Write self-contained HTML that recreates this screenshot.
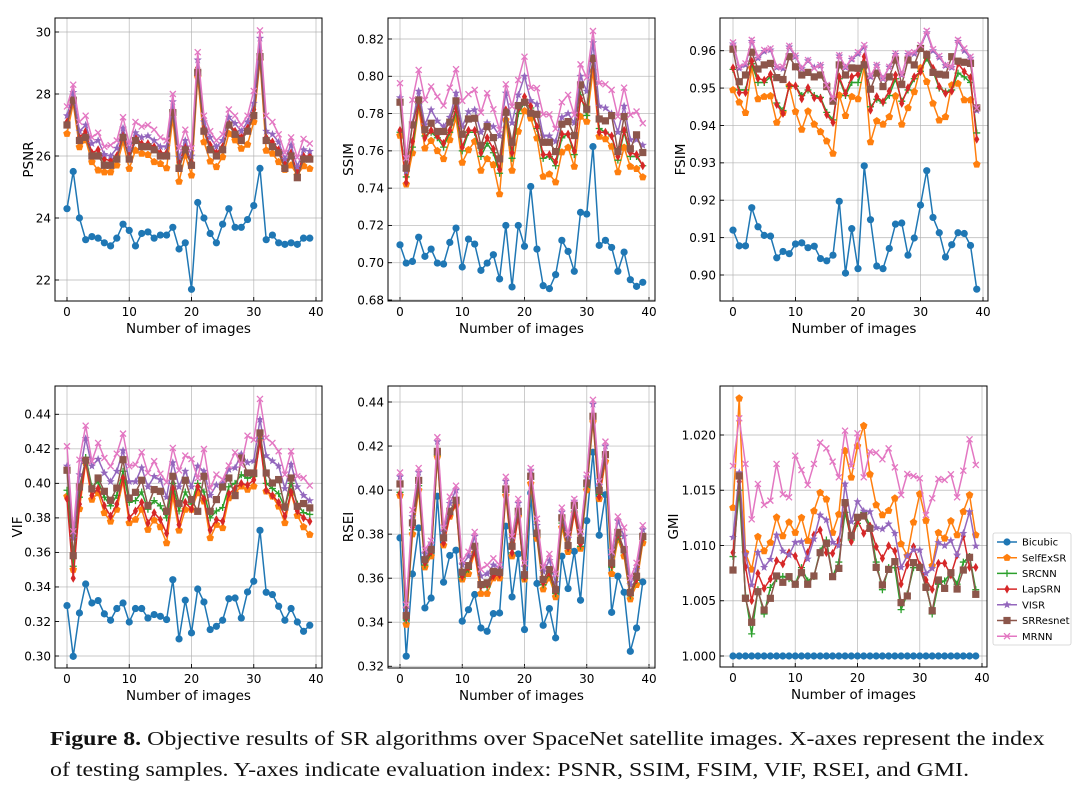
<!DOCTYPE html>
<html><head><meta charset="utf-8">
<style>
html,body{margin:0;padding:0;background:#fff;}
svg{display:block;font-family:"DejaVu Sans","Liberation Sans",sans-serif;}
.cap{position:absolute;left:50px;font-family:"Liberation Serif",serif;font-size:19.5px;color:#111;white-space:nowrap;transform:scaleX(1.225);transform-origin:0 0;}
</style></head>
<body>
<div style="position:relative;width:1082px;height:793px;overflow:hidden">
<svg id="fig" width="1082" height="793" viewBox="0 0 1082 793"></svg>
<div class="cap" style="top:729px"><b>Figure 8.</b> Objective results of SR algorithms over SpaceNet satellite images. X-axes represent the index</div>
<div class="cap" style="top:760px">of testing samples. Y-axes indicate evaluation index: PSNR, SSIM, FSIM, VIF, RSEI, and GMI.</div>
</div>
<script>
const seriesNames=["Bicubic","SelfExSR","SRCNN","LapSRN","VISR","SRResnet","MRNN"];
const xTicks=[0,10,20,30,40];

const psnrBicubic=[24.3,25.5,24.0,23.3,23.4,23.35,23.2,23.1,23.35,23.8,23.6,23.1,23.5,23.55,23.35,23.45,23.45,23.7,23.0,23.2,21.7,24.5,24.0,23.5,23.2,23.8,24.3,23.7,23.7,23.95,24.4,25.6,23.3,23.45,23.2,23.15,23.2,23.15,23.35,23.35];
const psnrSelfExSR=[26.72,27.69,26.29,26.51,25.81,25.54,25.48,25.48,25.7,26.45,25.59,26.18,26.08,26.04,25.81,25.75,25.61,27.2,25.18,26.02,25.38,28.55,26.45,25.83,25.65,25.97,26.72,26.51,26.24,26.37,27.1,29.09,26.18,26.08,25.81,25.56,25.7,25.38,25.68,25.59];
const psnrSRCNN=[27.05,27.85,26.55,26.7,26.05,26.1,25.8,25.75,25.95,26.65,25.95,26.55,26.35,26.35,26.25,26.05,26.05,27.45,25.7,26.25,25.75,28.75,26.85,26.3,26.05,26.25,27.0,26.75,26.55,26.85,27.4,29.3,26.55,26.35,26.15,25.7,26.05,25.4,25.95,25.95];
const psnrLapSRN=[27.1,27.9,26.6,26.8,26.1,26.2,25.9,25.85,26.0,26.7,26.0,26.6,26.4,26.4,26.3,26.1,26.1,27.5,25.8,26.3,25.8,28.85,26.9,26.35,26.1,26.3,27.05,26.8,26.6,26.9,27.5,29.4,26.6,26.45,26.2,25.75,26.1,25.45,26.0,26.0];
const psnrVISR=[27.3,28.05,26.8,27.0,26.4,26.5,26.05,26.0,26.25,26.9,26.2,26.75,26.6,26.65,26.5,26.3,26.3,27.75,25.95,26.5,26.0,29.1,27.1,26.6,26.3,26.5,27.25,27.05,26.8,27.1,27.7,29.8,26.8,26.7,26.45,25.9,26.35,25.65,26.2,26.15];
const psnrSRResnet=[27.0,27.8,26.5,26.6,26.0,26.0,25.7,25.7,25.9,26.6,25.9,26.5,26.3,26.3,26.2,26.0,26.0,27.4,25.6,26.2,25.7,28.7,26.8,26.2,26.0,26.2,27.0,26.7,26.5,26.8,27.3,29.2,26.5,26.3,26.1,25.6,26.0,25.3,25.9,25.9];
const psnrMRNN=[27.6,28.3,27.1,27.3,26.6,26.75,26.3,26.35,26.5,27.25,26.4,27.1,26.95,27.0,26.85,26.6,26.5,28.0,26.25,26.85,26.25,29.35,27.3,26.8,26.5,26.7,27.5,27.3,27.0,27.3,28.1,30.05,27.3,27.1,26.7,26.1,26.6,25.95,26.55,26.4];

const ssimBicubic=[0.7096,0.6998,0.7007,0.7137,0.7034,0.7073,0.6998,0.6993,0.7109,0.7186,0.6977,0.7127,0.71,0.6959,0.6998,0.7043,0.6913,0.72,0.687,0.72,0.7088,0.7409,0.7073,0.6877,0.6861,0.6936,0.712,0.7061,0.6954,0.727,0.7261,0.7623,0.7093,0.712,0.7082,0.6954,0.7057,0.6909,0.6873,0.6895];
const ssimSelfExSR=[0.7682,0.7421,0.7588,0.7829,0.7614,0.7654,0.76,0.7557,0.7659,0.7775,0.7538,0.7605,0.765,0.7495,0.7557,0.7525,0.7368,0.7766,0.7495,0.7704,0.7814,0.7775,0.7668,0.7462,0.7475,0.7432,0.7593,0.7618,0.7516,0.7784,0.7757,0.8029,0.7677,0.7664,0.7623,0.7486,0.7618,0.7516,0.7504,0.7459];
const ssimSRCNN=[0.770,0.746,0.762,0.785,0.768,0.770,0.767,0.762,0.770,0.781,0.760,0.770,0.770,0.757,0.764,0.759,0.748,0.781,0.756,0.780,0.786,0.783,0.772,0.756,0.757,0.752,0.767,0.769,0.758,0.790,0.779,0.810,0.772,0.770,0.768,0.755,0.770,0.757,0.757,0.752];
const ssimLapSRN=[0.771,0.743,0.765,0.786,0.767,0.771,0.768,0.764,0.771,0.783,0.762,0.771,0.771,0.759,0.767,0.761,0.750,0.782,0.759,0.783,0.789,0.784,0.773,0.758,0.758,0.754,0.769,0.769,0.760,0.788,0.783,0.808,0.770,0.770,0.768,0.757,0.771,0.759,0.758,0.752];
const ssimVISR=[0.7885,0.749,0.775,0.792,0.774,0.782,0.776,0.773,0.778,0.791,0.773,0.781,0.782,0.770,0.775,0.773,0.768,0.791,0.775,0.790,0.800,0.787,0.785,0.768,0.768,0.765,0.778,0.780,0.775,0.800,0.792,0.818,0.784,0.783,0.780,0.770,0.784,0.766,0.766,0.763];
const ssimSRResnet=[0.7861,0.7507,0.7739,0.7873,0.7713,0.7748,0.7704,0.7704,0.7754,0.7868,0.7689,0.7771,0.7775,0.7629,0.773,0.7671,0.7557,0.7807,0.7646,0.7843,0.7861,0.7802,0.7796,0.7646,0.7646,0.7596,0.7743,0.7757,0.7682,0.7954,0.7823,0.8096,0.7771,0.7761,0.7789,0.7596,0.7784,0.7611,0.7686,0.7591];
const ssimMRNN=[0.7963,0.7561,0.7873,0.8034,0.7873,0.7945,0.7891,0.7843,0.7939,0.8038,0.7868,0.7904,0.7927,0.7805,0.7909,0.7823,0.7713,0.7957,0.7838,0.798,0.8105,0.7939,0.7936,0.7796,0.7796,0.7718,0.7861,0.79,0.7793,0.8064,0.7993,0.8243,0.7963,0.7957,0.7927,0.7784,0.7939,0.7793,0.7811,0.7748];

const fsimBicubic=[0.912,0.9078,0.9078,0.918,0.9129,0.9106,0.9104,0.9046,0.9063,0.9057,0.9083,0.9086,0.9073,0.9077,0.9044,0.9038,0.9053,0.9197,0.9005,0.9124,0.9017,0.9292,0.9148,0.9024,0.9017,0.9071,0.9136,0.9139,0.9053,0.9099,0.9187,0.9279,0.9154,0.9113,0.9048,0.9081,0.9113,0.9111,0.9079,0.8962];
const fsimSelfExSR=[0.9495,0.9462,0.9434,0.9554,0.9471,0.9477,0.9479,0.9408,0.9434,0.9506,0.9437,0.9389,0.9438,0.9403,0.9383,0.9358,0.9325,0.9481,0.9426,0.9477,0.9471,0.9557,0.9356,0.9412,0.9403,0.9423,0.9479,0.9403,0.9447,0.949,0.9554,0.9517,0.9459,0.9414,0.9423,0.9508,0.9512,0.9468,0.9468,0.9296];
const fsimSRCNN=[0.9550,0.9495,0.9495,0.9565,0.9515,0.9515,0.9530,0.9460,0.9440,0.9505,0.9505,0.9480,0.9495,0.9480,0.9475,0.9435,0.9415,0.9525,0.9480,0.9515,0.9515,0.9570,0.9450,0.9470,0.9460,0.9480,0.9525,0.9465,0.9495,0.9525,0.9545,0.9580,0.9545,0.9500,0.9490,0.9495,0.9540,0.9530,0.9515,0.9380];
const fsimLapSRN=[0.9554,0.9488,0.9488,0.9572,0.9526,0.9521,0.9537,0.9456,0.9432,0.9508,0.9506,0.9471,0.9501,0.9474,0.9472,0.9429,0.9408,0.953,0.9486,0.953,0.9537,0.9584,0.9441,0.9477,0.9463,0.9492,0.9535,0.9459,0.9501,0.953,0.9544,0.959,0.9553,0.9504,0.9486,0.9492,0.9566,0.9544,0.9528,0.9363];
const fsimVISR=[0.9618,0.9553,0.9562,0.9625,0.9580,0.9598,0.9602,0.9555,0.9552,0.9610,0.9584,0.9552,0.9573,0.9555,0.9560,0.9506,0.9470,0.9586,0.9555,0.9577,0.9592,0.9610,0.9530,0.9560,0.9525,0.9556,0.9590,0.9535,0.9590,0.9592,0.9611,0.9648,0.9600,0.9582,0.9560,0.9555,0.9625,0.9600,0.9580,0.9440];
const fsimSRResnet=[0.9604,0.9517,0.9535,0.9596,0.9551,0.9562,0.9566,0.9528,0.9523,0.9584,0.9557,0.9535,0.9542,0.953,0.9535,0.9504,0.9465,0.9562,0.9535,0.9554,0.9553,0.9562,0.9497,0.954,0.9504,0.953,0.9575,0.951,0.9575,0.9562,0.9606,0.959,0.9542,0.9537,0.9535,0.9584,0.9572,0.9569,0.9566,0.9447];
const fsimMRNN=[0.9622,0.9557,0.9566,0.9629,0.9584,0.9602,0.9606,0.9557,0.9557,0.9613,0.9587,0.9553,0.9575,0.9553,0.9562,0.9508,0.9472,0.9588,0.9557,0.9579,0.9596,0.9615,0.9533,0.9562,0.9526,0.9557,0.9593,0.9536,0.9593,0.9596,0.9615,0.9653,0.9604,0.9586,0.9562,0.9557,0.9629,0.9606,0.9584,0.9446];

const vifBicubic=[0.3292,0.2998,0.3249,0.3417,0.3307,0.3321,0.3244,0.3207,0.3275,0.3307,0.3197,0.3275,0.3275,0.322,0.324,0.323,0.3211,0.3442,0.3099,0.3323,0.3134,0.3388,0.3313,0.3153,0.3172,0.3207,0.3332,0.3336,0.322,0.3371,0.3433,0.3728,0.3369,0.3356,0.3288,0.3207,0.3275,0.3197,0.3143,0.3178];
const vifSelfExSR=[0.3925,0.35,0.3852,0.4118,0.3906,0.3944,0.3829,0.378,0.3848,0.4012,0.3771,0.379,0.3848,0.3732,0.3786,0.3747,0.3655,0.3925,0.3728,0.3848,0.3848,0.3944,0.3896,0.3684,0.3761,0.3742,0.3915,0.3944,0.3983,0.3964,0.3983,0.4263,0.3954,0.3925,0.3867,0.3771,0.3944,0.3813,0.3747,0.3703];
const vifSRCNN=[0.396,0.352,0.392,0.415,0.398,0.401,0.392,0.387,0.393,0.407,0.389,0.390,0.395,0.385,0.390,0.387,0.380,0.400,0.384,0.395,0.388,0.400,0.395,0.380,0.384,0.386,0.398,0.400,0.405,0.403,0.404,0.426,0.400,0.397,0.394,0.386,0.400,0.388,0.383,0.382];
const vifLapSRN=[0.391,0.345,0.388,0.413,0.393,0.397,0.387,0.381,0.388,0.403,0.380,0.384,0.389,0.377,0.383,0.379,0.371,0.397,0.376,0.389,0.385,0.398,0.391,0.373,0.379,0.378,0.394,0.397,0.400,0.399,0.402,0.424,0.396,0.393,0.389,0.381,0.395,0.384,0.380,0.378];
const vifVISR=[0.410,0.368,0.405,0.426,0.410,0.414,0.406,0.401,0.407,0.419,0.401,0.401,0.409,0.398,0.404,0.402,0.392,0.412,0.398,0.407,0.398,0.410,0.407,0.393,0.399,0.400,0.408,0.409,0.417,0.412,0.413,0.437,0.416,0.413,0.410,0.397,0.411,0.398,0.393,0.390];
const vifSRResnet=[0.4076,0.3581,0.3979,0.4134,0.3968,0.4031,0.3954,0.3902,0.3973,0.4137,0.3915,0.3948,0.4018,0.3871,0.3964,0.3954,0.3838,0.4041,0.3883,0.4018,0.3906,0.3838,0.4041,0.3838,0.3906,0.3979,0.4031,0.3929,0.4147,0.406,0.406,0.4292,0.406,0.4002,0.4022,0.3863,0.4031,0.3867,0.3883,0.3858];
const vifMRNN=[0.4215,0.3722,0.4137,0.4334,0.4128,0.4234,0.4147,0.4099,0.4172,0.4288,0.4099,0.4108,0.418,0.406,0.4128,0.4056,0.4006,0.4205,0.4075,0.4161,0.4141,0.4031,0.4199,0.3973,0.4051,0.4022,0.4103,0.4179,0.4108,0.4276,0.4253,0.4489,0.4263,0.4234,0.4186,0.4051,0.4186,0.4041,0.4031,0.3987];

const rseiBicubic=[0.3783,0.3246,0.3619,0.3828,0.3465,0.351,0.3972,0.3582,0.3703,0.3727,0.3405,0.3457,0.3526,0.3374,0.3359,0.3439,0.3442,0.3836,0.3515,0.371,0.3367,0.3987,0.3576,0.3386,0.3462,0.3329,0.37,0.3553,0.3722,0.35,0.3861,0.4172,0.3795,0.3979,0.3445,0.3609,0.3536,0.3268,0.3374,0.3583];
const rseiSelfExSR=[0.3975,0.339,0.38,0.40,0.365,0.37,0.415,0.375,0.388,0.393,0.3595,0.362,0.3715,0.353,0.353,0.36,0.36,0.3975,0.37,0.388,0.3595,0.403,0.378,0.355,0.36,0.3515,0.383,0.372,0.3895,0.3735,0.40,0.431,0.396,0.413,0.362,0.3775,0.37,0.3505,0.357,0.376];
const rseiSRCNN=[0.399,0.341,0.382,0.402,0.366,0.3715,0.416,0.377,0.389,0.394,0.3605,0.364,0.3735,0.356,0.356,0.362,0.362,0.399,0.3715,0.389,0.36,0.405,0.379,0.357,0.362,0.353,0.385,0.3735,0.3905,0.3745,0.4015,0.4325,0.398,0.415,0.365,0.379,0.3715,0.352,0.359,0.3775];
const rseiLapSRN=[0.3985,0.342,0.383,0.403,0.367,0.372,0.4165,0.376,0.3885,0.3935,0.361,0.365,0.372,0.3565,0.357,0.361,0.3615,0.3995,0.3715,0.388,0.3605,0.4055,0.3795,0.358,0.3625,0.354,0.386,0.374,0.39,0.3755,0.4025,0.433,0.397,0.4155,0.366,0.38,0.372,0.353,0.3595,0.378];
const rseiVISR=[0.406,0.346,0.388,0.408,0.371,0.376,0.422,0.381,0.394,0.40,0.366,0.37,0.379,0.361,0.362,0.366,0.365,0.404,0.378,0.394,0.365,0.409,0.384,0.363,0.368,0.358,0.39,0.378,0.395,0.38,0.406,0.439,0.402,0.42,0.37,0.386,0.379,0.357,0.364,0.382];
const rseiSRResnet=[0.4028,0.343,0.3851,0.4044,0.3684,0.373,0.4176,0.3783,0.3904,0.3954,0.3627,0.3657,0.3745,0.3571,0.3579,0.3631,0.3627,0.4005,0.3745,0.3904,0.3616,0.4063,0.3805,0.3594,0.3639,0.3548,0.3874,0.3748,0.393,0.3772,0.4032,0.4335,0.3999,0.4161,0.3669,0.3808,0.373,0.3535,0.3609,0.379];
const rseiMRNN=[0.408,0.348,0.391,0.41,0.373,0.377,0.424,0.383,0.397,0.402,0.368,0.372,0.381,0.364,0.366,0.369,0.366,0.406,0.379,0.396,0.367,0.41,0.387,0.365,0.371,0.362,0.392,0.38,0.396,0.381,0.407,0.441,0.404,0.422,0.372,0.388,0.383,0.36,0.367,0.384];

const gmiBicubic=[1.0,1.0,1.0,1.0,1.0,1.0,1.0,1.0,1.0,1.0,1.0,1.0,1.0,1.0,1.0,1.0,1.0,1.0,1.0,1.0,1.0,1.0,1.0,1.0,1.0,1.0,1.0,1.0,1.0,1.0,1.0,1.0,1.0,1.0,1.0,1.0,1.0,1.0,1.0,1.0];
const gmiSelfExSR=[1.01342,1.02332,1.00935,1.00784,1.0108,1.0095,1.01026,1.01255,1.01086,1.0121,1.01116,1.01252,1.01044,1.01312,1.01478,1.01418,1.01116,1.01282,1.01858,1.01617,1.019,1.02084,1.01644,1.01367,1.01276,1.01315,1.01427,1.01014,1.00908,1.0121,1.01466,1.01225,1.00817,1.01116,1.01065,1.01222,1.01095,1.01306,1.01457,1.01095];
const gmiSRCNN=[1.009,1.015,1.0055,1.002,1.006,1.0038,1.0062,1.007,1.0072,1.007,1.0065,1.008,1.0068,1.0072,1.0095,1.0105,1.0072,1.0085,1.013,1.0105,1.012,1.013,1.0118,1.0085,1.006,1.008,1.008,1.0042,1.0056,1.008,1.008,1.0065,1.0038,1.0065,1.0068,1.0075,1.0065,1.0085,1.009,1.006];
const gmiLapSRN=[1.00935,1.01578,1.00808,1.00501,1.00748,1.00612,1.00697,1.00863,1.00833,1.00935,1.00905,1.00772,1.00935,1.01095,1.0114,1.00935,1.00929,1.0105,1.01357,1.01035,1.01225,1.0111,1.01176,1.00989,1.00884,1.00998,1.0095,1.00652,1.00824,1.00989,1.00824,1.00688,1.00603,1.00839,1.00839,1.00733,1.00914,1.01086,1.00802,1.00802];
const gmiVISR=[1.01074,1.01659,1.00923,1.00643,1.00938,1.00802,1.00875,1.01095,1.0095,1.00914,1.01029,1.01035,1.00878,1.01059,1.01276,1.01231,1.01029,1.00998,1.01557,1.01216,1.01397,1.01312,1.01306,1.01161,1.01149,1.01195,1.0111,1.00802,1.00905,1.00959,1.00959,1.00748,1.00793,1.01026,1.00998,1.01044,1.00914,1.0111,1.01306,1.00995];
const gmiSRResnet=[1.00778,1.01629,1.00522,1.00305,1.00582,1.00416,1.00522,1.00724,1.00667,1.00718,1.00649,1.00754,1.00649,1.00724,1.00935,1.0102,1.00718,1.00793,1.01388,1.01089,1.01255,1.01267,1.01155,1.00802,1.00643,1.00784,1.00854,1.00483,1.00543,1.00845,1.00802,1.00621,1.0041,1.00688,1.00612,1.00754,1.00606,1.00778,1.00893,1.00558];
const gmiMRNN=[1.0172,1.02151,1.01738,1.01237,1.01557,1.01367,1.01406,1.01738,1.01463,1.01436,1.01813,1.01683,1.01548,1.01738,1.01931,1.01879,1.01759,1.01617,1.02039,1.0172,1.02015,1.01617,1.01849,1.0184,1.0178,1.01879,1.01707,1.01457,1.01647,1.01629,1.01608,1.01276,1.01427,1.01602,1.01593,1.01644,1.01436,1.01677,1.01961,1.01729];

const psnrTicks=[22,24,26,28,30];
const ssimTicks=[0.68,0.70,0.72,0.74,0.76,0.78,0.80,0.82];
const fsimTicks=[0.90,0.91,0.92,0.93,0.94,0.95,0.96];
const vifTicks=[0.30,0.32,0.34,0.36,0.38,0.40,0.42,0.44];
const rseiTicks=[0.32,0.34,0.36,0.38,0.40,0.42,0.44];
const gmiTicks=[1.000,1.005,1.010,1.015,1.020];

const NS="http://www.w3.org/2000/svg";
const svg=document.getElementById('fig');
const colors=["#1f77b4","#ff7f0e","#2ca02c","#d62728","#9467bd","#8c564b","#e377c2"];
const markers=["circle","pentagon","plus","diamond","star","square","x"];

function el(tag,attrs,parent){const e=document.createElementNS(NS,tag);for(const k in attrs)e.setAttribute(k,attrs[k]);(parent||svg).appendChild(e);return e;}

function marker(g,type,cx,cy,c){
  let m;
  if(type==="circle"){m=el('circle',{cx:cx,cy:cy,r:3.6,fill:c},g);}
  else if(type==="square"){m=el('rect',{x:cx-3.6,y:cy-3.6,width:7.2,height:7.2,fill:c},g);}
  else if(type==="pentagon"){let p=[];for(let k=0;k<5;k++){const a=-Math.PI/2+k*2*Math.PI/5;p.push((cx+4*Math.cos(a)).toFixed(1)+','+(cy+4*Math.sin(a)).toFixed(1));}m=el('polygon',{points:p.join(' '),fill:c},g);}
  else if(type==="diamond"){m=el('polygon',{points:`${cx},${cy-4.5} ${cx+2.6},${cy} ${cx},${cy+4.5} ${cx-2.6},${cy}`,fill:c},g);}
  else if(type==="star"){let p=[];for(let k=0;k<10;k++){const a=-Math.PI/2+k*Math.PI/5;const r=k%2?1.8:4.3;p.push((cx+r*Math.cos(a)).toFixed(1)+','+(cy+r*Math.sin(a)).toFixed(1));}m=el('polygon',{points:p.join(' '),fill:c},g);}
  else if(type==="plus"){m=el('path',{d:`M${cx-3.5},${cy}H${cx+3.5}M${cx},${cy-3.5}V${cy+3.5}`,stroke:c,'stroke-width':1.3},g);}
  else {m=el('path',{d:`M${cx-3},${cy-3}L${cx+3},${cy+3}M${cx-3},${cy+3}L${cx+3},${cy-3}`,stroke:c,'stroke-width':1.3},g);}
  
  
}

const panels=[
 {key:"psnr",label:"PSNR",box:[55,18,322,301],x0:67,x40:316,ya:[30,32],yb:[22,280],ticks:psnrTicks,dec:0,yOff:27,
  series:[psnrBicubic,psnrSelfExSR,psnrSRCNN,psnrLapSRN,psnrVISR,psnrSRResnet,psnrMRNN]},
 {key:"ssim",label:"SSIM",box:[388,18,655,301],x0:400,x40:649,ya:[0.82,39],yb:[0.68,300],ticks:ssimTicks,dec:2,yOff:40,
  series:[ssimBicubic,ssimSelfExSR,ssimSRCNN,ssimLapSRN,ssimVISR,ssimSRResnet,ssimMRNN]},
 {key:"fsim",label:"FSIM",box:[720,18,988,301],x0:733,x40:983,ya:[0.96,50.7],yb:[0.90,275],ticks:fsimTicks,dec:2,yOff:40,
  series:[fsimBicubic,fsimSelfExSR,fsimSRCNN,fsimLapSRN,fsimVISR,fsimSRResnet,fsimMRNN]},
 {key:"vif",label:"VIF",box:[55,386,322,668],x0:67,x40:316,ya:[0.44,414.3],yb:[0.30,656],ticks:vifTicks,dec:2,yOff:38,
  series:[vifBicubic,vifSelfExSR,vifSRCNN,vifLapSRN,vifVISR,vifSRResnet,vifMRNN]},
 {key:"rsei",label:"RSEI",box:[388,386,655,668],x0:400,x40:649,ya:[0.44,402],yb:[0.32,666.3],ticks:rseiTicks,dec:2,yOff:40,
  series:[rseiBicubic,rseiSelfExSR,rseiSRCNN,rseiLapSRN,rseiVISR,rseiSRResnet,rseiMRNN]},
 {key:"gmi",label:"GMI",box:[720,386,987,667],x0:733,x40:982,ya:[1.020,435],yb:[1.000,656],ticks:gmiTicks,dec:3,yOff:47,
  series:[gmiBicubic,gmiSelfExSR,gmiSRCNN,gmiLapSRN,gmiVISR,gmiSRResnet,gmiMRNN]}
];

panels.forEach(P=>{
  const [bx0,by0,bx1,by1]=P.box;
  const xs=i=>P.x0+(P.x40-P.x0)*i/40;
  const ys=v=>P.ya[1]+(v-P.ya[0])*(P.yb[1]-P.ya[1])/(P.yb[0]-P.ya[0]);
  const g=el('g',{});
  
  
  xTicks.forEach(t=>{
    const x=xs(t);
    const gl=el('line',{x1:x,y1:by0,x2:x,y2:by1,stroke:'#b0b0b0','stroke-width':0.9,opacity:0.7},g);
    
    
    const tk=el('line',{x1:x,y1:by1,x2:x,y2:by1-4,stroke:'#000','stroke-width':0.9},g);
    
    
    const tl=el('text',{x:x,y:by1+15,'text-anchor':'middle','font-size':12,fill:'#000'},g);
    tl.textContent=t;
    
    
  });
  P.ticks.forEach(t=>{
    const y=ys(t);
    const gl=el('line',{x1:bx0,y1:y,x2:bx1,y2:y,stroke:'#b0b0b0','stroke-width':0.9,opacity:0.7},g);
    
    
    const tk=el('line',{x1:bx0,y1:y,x2:bx0+4,y2:y,stroke:'#000','stroke-width':0.9},g);
    
    
    const tl=el('text',{x:bx0-4,y:y+4.3,'text-anchor':'end','font-size':12,fill:'#000'},g);
    tl.textContent=t.toFixed(P.dec);
    
    
  });
  P.series.forEach((arr,si)=>{
    const sg=el('g',{},g);
    
    
    const pts=arr.map((v,i)=>xs(i).toFixed(2)+','+ys(v).toFixed(2)).join(' ');
    const pl=el('polyline',{points:pts,fill:'none',stroke:colors[si],'stroke-width':1.5,'stroke-linejoin':'round'},sg);
    
    
    arr.forEach((v,i)=>marker(sg,markers[si],xs(i),ys(v),colors[si]));
  });
  const fr=el('rect',{x:bx0,y:by0,width:bx1-bx0,height:by1-by0,fill:'none',stroke:'#000','stroke-width':1},g);
  
  
  const xl=el('text',{x:(bx0+bx1)/2,y:by1+32,'text-anchor':'middle','font-size':13.5,fill:'#000'},g);
  xl.textContent='Number of images';
  
  
  const yl=el('text',{x:0,y:0,'text-anchor':'middle','font-size':13.5,fill:'#000',transform:`translate(${bx0-P.yOff+5},${(by0+by1)/2}) rotate(-90)`},g);
  yl.textContent=P.label;
  
  
});

const lg=el('g',{});


const lb=el('rect',{x:993,y:533,width:78,height:112,rx:2,fill:'#fff',stroke:'#d0d0d0','stroke-width':0.8},lg);


seriesNames.forEach((n,i)=>{
  const y=542+i*15.7;
  const eg=el('g',{},lg);
  
  
  el('line',{x1:997,y1:y,x2:1017,y2:y,stroke:colors[i],'stroke-width':1.5},eg);
  marker(eg,markers[i],1007,y,colors[i]);
  const t=el('text',{x:1022,y:y+3.6,'font-size':10,fill:'#000'},eg);
  t.textContent=n;
  
  
});
</script>
</body></html>
